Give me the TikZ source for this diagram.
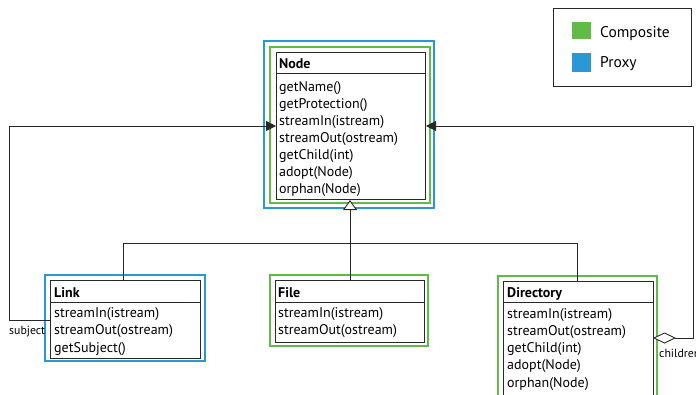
\documentclass[tikz,border=0pt]{standalone}
\usepackage{fontspec}
\setmainfont{PT Sans}
\usetikzlibrary{arrows.meta}
\definecolor{cgreen}{RGB}{98,187,70}
\definecolor{cblue}{RGB}{43,152,214}
\definecolor{cline}{RGB}{40,40,40}
\begin{document}
\begin{tikzpicture}[x=1pt,y=-1pt,
  classbox/.style={draw=cline, line width=1pt, inner sep=0pt, anchor=north west},
  sep/.style={draw=cline, line width=0.9pt},
  gframe/.style={draw=cgreen, line width=2.4pt},
  bframe/.style={draw=cblue, line width=2.4pt},
  conn/.style={draw=cline, line width=0.9pt},
  txt/.style={anchor=base west, inner sep=0pt, font=\fontsize{14}{16}\selectfont},
  ttl/.style={txt, font=\fontsize{14}{16}\selectfont\bfseries},
  lbl/.style={anchor=base west, inner sep=0pt, font=\fontsize{11.8}{13}\selectfont},
  leg/.style={anchor=base west, inner sep=0pt, font=\fontsize{15.5}{17}\selectfont},
  head/.style={-{Triangle[length=10pt,width=10pt]}},
]
\useasboundingbox (0,0) rectangle (696,394);
\begin{scope}
\clip (0,0) rectangle (696,394);
% Node
\draw[bframe] (264,41) rectangle (434,208);
\draw[gframe] (270,47) rectangle (430,203);
\node[classbox, minimum width=149pt, minimum height=147pt] (node) at (276,52) {};
\draw[sep] (276,73) -- (425,73);
\node[ttl] (nodeT) at (279,68) {Node};
\foreach \t [count=\i] in {getName(),getProtection(),streamIn(istream),streamOut(ostream),getChild(int),adopt(Node),orphan(Node)}
  \node[txt] (nodeM\i) at (279,{91+17*(\i-1)}) {\t};
% Link
\draw[bframe] (45,275) rectangle (205,361);
\node[classbox, minimum width=150pt, minimum height=78pt] (link) at (50,280) {};
\draw[sep] (50,302) -- (200,302);
\node[ttl] (linkT) at (54,297) {Link};
\foreach \t [count=\i] in {streamIn(istream),streamOut(ostream),getSubject()}
  \node[txt] (linkM\i) at (54,{317+17.5*(\i-1)}) {\t};
% File
\draw[gframe] (270,275) rectangle (428,346);
\node[classbox, minimum width=149pt, minimum height=62pt] (file) at (275,280) {};
\draw[sep] (275,302) -- (424,302);
\node[ttl] (fileT) at (278,297) {File};
\foreach \t [count=\i] in {streamIn(istream),streamOut(ostream)}
  \node[txt] (fileM\i) at (278,{317+17.5*(\i-1)}) {\t};
% Directory
\draw[gframe] (498,276) rectangle (657,420);
\node[classbox, minimum width=150pt, minimum height=114pt] (dir) at (503,281) {};
\draw[sep] (503,302) -- (653,302);
\node[ttl] (dirT) at (507,297) {Directory};
\foreach \t [count=\i] in {streamIn(istream),streamOut(ostream),getChild(int),adopt(Node),orphan(Node)}
  \node[txt] (dirM\i) at (507,{318+17.3*(\i-1)}) {\t};
% generalization
\coordinate (busL) at (123,243);
\coordinate (busR) at (577,243);
\coordinate (busM) at (350,243);
\draw[conn] (busL) -- (busR);
\draw[conn] (busL) -- (busL |- link.north);
\draw[conn] (busR) -- (busR |- dir.north);
\draw[conn] (busM |- file.north) -- (busM);
\draw[conn, -{Triangle[open,length=10pt,width=14pt,fill=white]}] (busM) -- (busM |- node.south);
% subject
\coordinate (subj) at (50,320);
\coordinate (subjC) at (9,320);
\draw[conn, head] (subj) -- (subjC) |- (node.west);
\node[lbl] (subjL) at (9,334) {subject};
% children
\coordinate (chS) at (653,338);
\coordinate (chC) at (693,338);
\draw[conn, {Diamond[open,length=23pt,width=11pt,fill=white]}-{Triangle[length=10pt,width=10pt]}] (chS) -- (chC) |- (node.east);
\node[lbl] (chL) at (659,357) {children};
% legend
\node[draw=cline, line width=1pt, minimum width=138pt, minimum height=78pt, anchor=north west, inner sep=0pt] (legend) at (553,8) {};
\fill[cgreen] (572,22) rectangle (591,39);
\fill[cblue] (572,53) rectangle (591,72);
\node[leg] (legG) at (600,37) {Composite};
\node[leg] (legB) at (600,67) {Proxy};
\end{scope}
\end{tikzpicture}
\end{document}
